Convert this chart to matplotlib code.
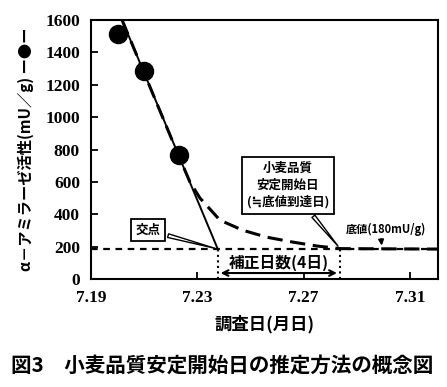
import matplotlib
matplotlib.use("Agg")
from matplotlib import pyplot as plt

plt.rcParams['font.family'] = ['Noto Sans CJK JP', 'DejaVu Sans']
plt.rcParams['font.weight'] = 'bold'

# measured points (day of July, mU/g)
obs_x = [20.0, 21.0, 22.32]
obs_y = [1515, 1285, 765]

# regression line down to the intersection
fit_x = [20.17, 23.77]
fit_y = [1600, 185]

# actual curve (dashed) flattening to the bottom value
curve_x = [20.17, 22.2, 22.72, 23.1, 23.85, 24.7, 25.6, 26.6, 27.5, 28.36, 32.1]
curve_y = [1600, 800, 600, 500, 364, 302, 259, 228, 204, 188, 185]

base_val = 185
cross_day = 23.77
stable_day = 28.36

xticks = [19, 23, 27, 31]
xtick_labels = ["7.19", "7.23", "7.27", "7.31"]
yticks = list(range(0, 1601, 200))

fig = plt.figure(figsize=(4.47, 3.87), dpi=100)
ax = fig.add_axes([0.2036, 0.279, 0.776, 0.669])

ax.axhline(base_val, color="k", lw=1.6, ls=(0, (3, 2.5)))
ax.plot(curve_x, curve_y, color="k", lw=2.2, ls=(0, (5, 2.5)))
ax.plot(fit_x, fit_y, color="k", lw=1.4)
ax.plot(obs_x, obs_y, "o", color="k", ms=13)

ax.plot([cross_day, cross_day], [0, base_val], color="k", lw=1.5, ls=":")
ax.plot([stable_day, stable_day], [0, base_val], color="k", lw=1.5, ls=":")
ax.annotate("", xy=(cross_day, 37), xytext=(stable_day, 37),
            arrowprops=dict(arrowstyle="<->", color="k", lw=1.5))
ax.text((cross_day + stable_day) / 2, 100, "補正日数(4日)", ha="center", va="center",
        fontsize=11.3, fontweight="bold")

ax.annotate("交点", xy=(cross_day, base_val), xytext=(21.14, 302),
            ha="center", va="center", fontsize=9, fontweight="bold",
            bbox=dict(boxstyle="square,pad=0.35", fc="white", ec="k", lw=1.3),
            arrowprops=dict(arrowstyle="wedge,tail_width=0.3", fc="white", ec="k", lw=1.0))
ax.annotate("小麦品質\n安定開始日\n(≒底値到達日)", xy=(stable_day, 190), xytext=(26.4, 580),
            ha="center", va="center", fontsize=9, fontweight="bold", linespacing=1.35,
            bbox=dict(boxstyle="square,pad=0.4", fc="white", ec="k", lw=1.3),
            arrowprops=dict(arrowstyle="wedge,tail_width=0.3", fc="white", ec="k", lw=1.0))
ax.text(28.6, 305, "底値(180mU/g)", ha="left", va="center", fontsize=8, fontweight="bold")
ax.annotate("", xy=(29.95, base_val + 5), xytext=(29.9, 265),
            arrowprops=dict(arrowstyle="-|>", color="k", lw=1.2, mutation_scale=8))

ax.set_xlim(19, 32.05)
ax.set_ylim(0, 1600)
ax.set_xticks(xticks)
ax.set_xticklabels(xtick_labels)
ax.set_yticks(yticks)
for lab in ax.get_xticklabels() + ax.get_yticklabels():
    lab.set_family("Liberation Serif")
    lab.set_fontweight("bold")
    lab.set_fontsize(12.5)
ax.tick_params(direction="in", length=5, width=1.3, pad=8)
for s in ax.spines.values():
    s.set_linewidth(1.5)

ax.set_xlabel("調査日(月日)", fontsize=12.5, fontweight="bold", labelpad=6)
ax.set_ylabel("α－アミラーゼ活性(mU／g) ー●ー", fontsize=11, fontweight="bold", labelpad=8)
fig.text(0.025, 0.057, "図3　小麦品質安定開始日の推定方法の概念図", fontsize=14.8, fontweight="bold",
         ha="left", va="center")

fig.savefig("out.png", dpi=100)
